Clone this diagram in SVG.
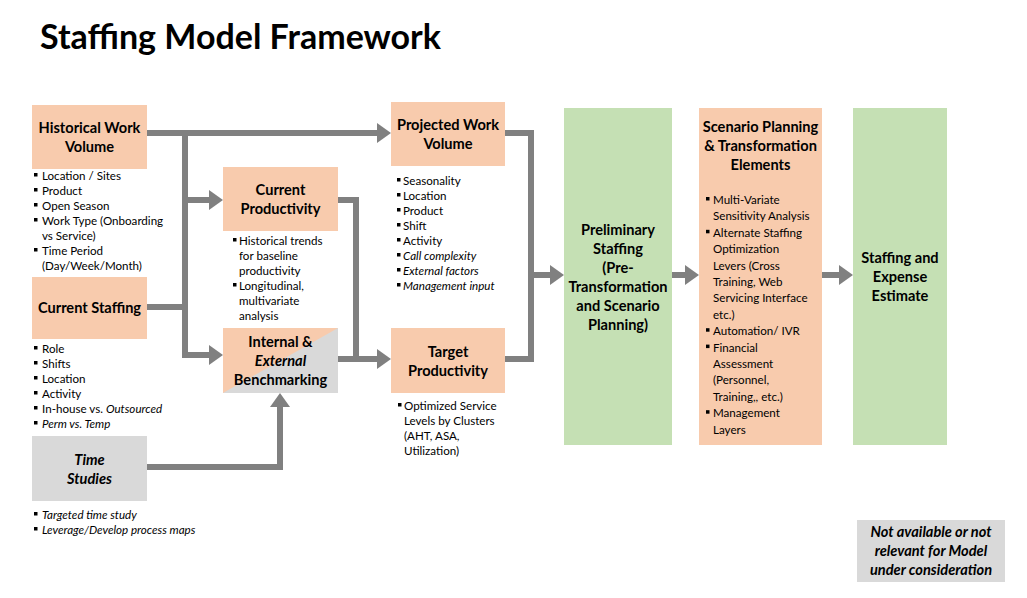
<svg xmlns="http://www.w3.org/2000/svg" width="1027" height="598" viewBox="0 0 1027 598">
<defs>
<style>
.t{font-family:Lato,"Liberation Sans",sans-serif;font-weight:bold;font-size:14.6px;fill:#000;text-anchor:middle}
.b{font-family:Lato,"Liberation Sans",sans-serif;font-size:11.6px;fill:#000}
.i{font-style:italic}
.peach{fill:#F8CBAD}
.gray{fill:#D9D9D9}
.green{fill:#C5E0B4}
.c{fill:none;stroke:#808080;stroke-width:6}
.ah{fill:#808080}
</style>
<rect id="bu" width="3.5" height="3.5" fill="#000"/>
</defs>
<rect width="1027" height="598" fill="#fff"/>
<text x="40" y="49" font-family="Lato,'Liberation Sans',sans-serif" font-weight="bold" font-size="34" fill="#000">Staffing Model Framework</text>

<g id="connectors">
<path class="c" d="M147,133 H378"/>
<polygon class="ah" points="377,123 391,133 377,143"/>
<path class="c" d="M185,133 V355 H210"/>
<path class="c" d="M185,200 H210"/>
<polygon class="ah" points="209,190 223,200 209,210"/>
<polygon class="ah" points="209,345 223,355 209,365"/>
<path class="c" d="M147,307 H185"/>
<path class="c" d="M338,200 H356 V359 H378"/>
<path class="c" d="M338,359 H356"/>
<polygon class="ah" points="377,349 391,359 377,369"/>
<path class="c" d="M147,467 H280 V406"/>
<polygon class="ah" points="270,407 280,393 290,407"/>
<path class="c" d="M505,133 H531 V359 H505"/>
<path class="c" d="M531,275 H551"/>
<polygon class="ah" points="550,265 564,275 550,285"/>
<path class="c" d="M672,275 H686"/>
<polygon class="ah" points="685,265 699,275 685,285"/>
<path class="c" d="M822,275 H840"/>
<polygon class="ah" points="839,265 853,275 839,285"/>
</g>

<g id="historical">
<rect class="peach" x="32" y="105" width="115" height="64"/>
<text class="t" x="89.5" y="133">Historical Work</text>
<text class="t" x="89.5" y="152">Volume</text>
<g class="b">
<use href="#bu" x="34" y="173"/><text x="42" y="180">Location / Sites</text>
<use href="#bu" x="34" y="188"/><text x="42" y="195">Product</text>
<use href="#bu" x="34" y="203"/><text x="42" y="210">Open Season</text>
<use href="#bu" x="34" y="218"/><text x="42" y="225">Work Type (Onboarding</text>
<text x="42" y="240">vs Service)</text>
<use href="#bu" x="34" y="248"/><text x="42" y="255">Time Period</text>
<text x="42" y="270">(Day/Week/Month)</text>
</g>
</g>

<g id="staffing">
<rect class="peach" x="32" y="277" width="115" height="62"/>
<text class="t" x="89.5" y="313">Current Staffing</text>
<g class="b">
<use href="#bu" x="34" y="346"/><text x="42" y="353">Role</text>
<use href="#bu" x="34" y="361"/><text x="42" y="368">Shifts</text>
<use href="#bu" x="34" y="376"/><text x="42" y="383">Location</text>
<use href="#bu" x="34" y="391"/><text x="42" y="398">Activity</text>
<use href="#bu" x="34" y="406"/><text x="42" y="413">In-house vs. <tspan class="i">Outsourced</tspan></text>
<use href="#bu" x="34" y="421"/><text x="42" y="428" class="i">Perm vs. Temp</text>
</g>
</g>

<g id="timestudies">
<rect class="gray" x="32" y="436" width="115" height="65"/>
<text class="t i" x="89.5" y="465">Time</text>
<text class="t i" x="89.5" y="484">Studies</text>
<g class="b i">
<use href="#bu" x="34" y="512"/><text x="42" y="519">Targeted time study</text>
<use href="#bu" x="34" y="527"/><text x="42" y="534">Leverage/Develop process maps</text>
</g>
</g>

<g id="productivity">
<rect class="peach" x="223" y="167" width="115" height="64"/>
<text class="t" x="280.5" y="195">Current</text>
<text class="t" x="280.5" y="214">Productivity</text>
<g class="b">
<use href="#bu" x="233" y="238"/><text x="239" y="245">Historical trends</text>
<text x="239" y="260">for baseline</text>
<text x="239" y="275">productivity</text>
<use href="#bu" x="233" y="283"/><text x="239" y="290"> Longitudinal,</text>
<text x="239" y="305">multivariate</text>
<text x="239" y="320">analysis</text>
</g>
</g>

<g id="benchmarking">
<rect class="gray" x="223" y="328" width="115" height="65"/>
<polygon class="peach" points="223,328 338,328 223,393"/>
<text class="t" x="280.5" y="347">Internal &amp;</text>
<text class="t i" x="280.5" y="366">External</text>
<text class="t" x="280.5" y="385">Benchmarking</text>
</g>

<g id="projected">
<rect class="peach" x="391" y="102" width="114" height="64"/>
<text class="t" x="448" y="130">Projected Work</text>
<text class="t" x="448" y="149">Volume</text>
<g class="b">
<use href="#bu" x="397" y="178"/><text x="403" y="185">Seasonality</text>
<use href="#bu" x="397" y="193"/><text x="403" y="200">Location</text>
<use href="#bu" x="397" y="208"/><text x="403" y="215">Product</text>
<use href="#bu" x="397" y="223"/><text x="403" y="230">Shift</text>
<use href="#bu" x="397" y="238"/><text x="403" y="245">Activity</text>
<use href="#bu" x="397" y="253"/><text x="403" y="260" class="i">Call complexity</text>
<use href="#bu" x="397" y="268"/><text x="403" y="275" class="i">External factors</text>
<use href="#bu" x="397" y="283"/><text x="403" y="290" class="i">Management input</text>
</g>
</g>

<g id="target">
<rect class="peach" x="391" y="328" width="114" height="65"/>
<text class="t" x="448" y="357">Target</text>
<text class="t" x="448" y="376">Productivity</text>
<g class="b">
<use href="#bu" x="398" y="403"/><text x="404" y="410">Optimized Service</text>
<text x="404" y="425">Levels by Clusters</text>
<text x="404" y="440">(AHT, ASA,</text>
<text x="404" y="455">Utilization)</text>
</g>
</g>

<g id="preliminary">
<rect class="green" x="564" y="108" width="108" height="337"/>
<text class="t" x="618" y="235">Preliminary</text>
<text class="t" x="618" y="254">Staffing</text>
<text class="t" x="618" y="273">(Pre-</text>
<text class="t" x="618" y="292">Transformation</text>
<text class="t" x="618" y="311">and Scenario</text>
<text class="t" x="618" y="330">Planning)</text>
</g>

<g id="scenario">
<rect class="peach" x="699" y="108" width="123" height="337"/>
<text class="t" x="760.5" y="132">Scenario Planning</text>
<text class="t" x="760.5" y="151">&amp; Transformation</text>
<text class="t" x="760.5" y="170">Elements</text>
<g class="b">
<use href="#bu" x="706" y="197"/><text x="713" y="204">Multi-Variate</text>
<text x="713" y="220.4">Sensitivity Analysis</text>
<use href="#bu" x="706" y="229.8"/><text x="713" y="236.8">Alternate Staffing</text>
<text x="713" y="253.2">Optimization</text>
<text x="713" y="269.6">Levers (Cross</text>
<text x="713" y="286">Training, Web</text>
<text x="713" y="302.4">Servicing Interface</text>
<text x="713" y="318.8">etc.)</text>
<use href="#bu" x="706" y="328.2"/><text x="713" y="335.2">Automation/ IVR</text>
<use href="#bu" x="706" y="344.6"/><text x="713" y="351.6">Financial</text>
<text x="713" y="368">Assessment</text>
<text x="713" y="384.4">(Personnel,</text>
<text x="713" y="400.8">Training,, etc.)</text>
<use href="#bu" x="706" y="410.2"/><text x="713" y="417.2">Management</text>
<text x="713" y="433.6">Layers</text>
</g>
</g>

<g id="estimate">
<rect class="green" x="853" y="108" width="94" height="337"/>
<text class="t" x="900" y="263">Staffing and</text>
<text class="t" x="900" y="282">Expense</text>
<text class="t" x="900" y="301">Estimate</text>
</g>

<g id="legend">
<rect class="gray" x="857" y="520" width="148" height="62"/>
<text class="t i" x="931" y="537">Not available or not</text>
<text class="t i" x="931" y="556">relevant for Model</text>
<text class="t i" x="931" y="575">under consideration</text>
</g>
</svg>
